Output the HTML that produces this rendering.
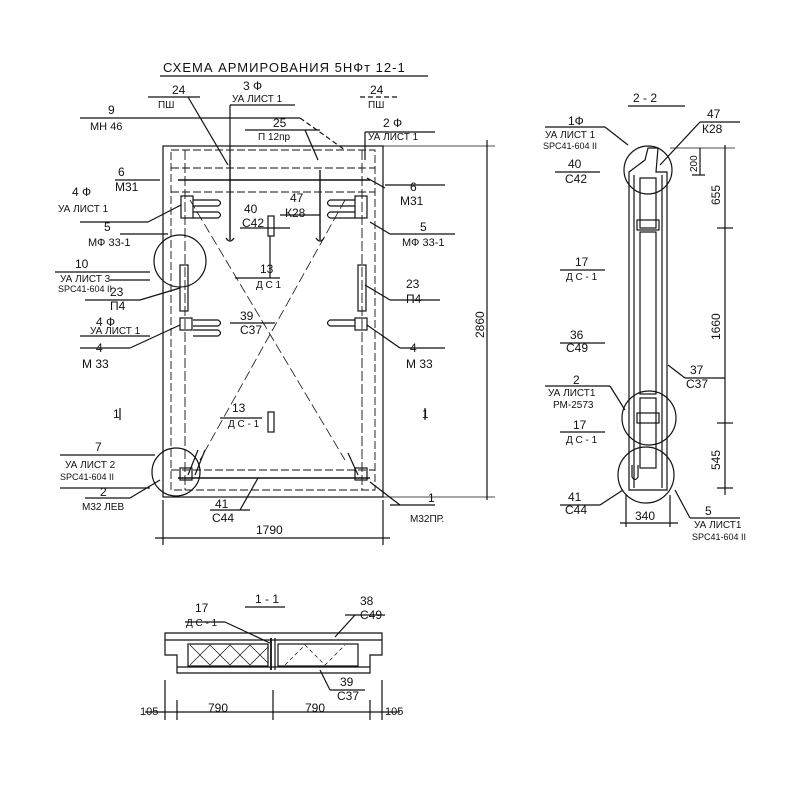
<!DOCTYPE html>
<html><head><meta charset="utf-8"><style>
html,body{margin:0;padding:0;background:#fff;width:800px;height:800px;overflow:hidden}
text{font-family:"Liberation Sans",sans-serif;fill:#111}
</style></head><body>
<svg width="800" height="800" viewBox="0 0 800 800" xmlns="http://www.w3.org/2000/svg">
<g stroke="#111" stroke-width="1.2" fill="none">
<!-- title -->
<line x1="160" y1="76" x2="428" y2="76"/>
<!-- main panel -->
<rect x="163" y="146" width="220" height="351"/>
<rect x="171" y="150" width="204" height="340" stroke-dasharray="8,3" stroke-width="0.9"/>
<line x1="171" y1="168" x2="375" y2="168" stroke-dasharray="8,3" stroke-width="0.9"/>
<line x1="178" y1="180" x2="370" y2="180" stroke-width="1.6"/>
<line x1="171" y1="192" x2="375" y2="192" stroke-dasharray="8,3" stroke-width="0.9"/>
<line x1="171" y1="470" x2="375" y2="470" stroke-dasharray="8,3" stroke-width="0.9"/>
<line x1="178" y1="478" x2="370" y2="478" stroke-width="1.4"/>
<line x1="185" y1="150" x2="185" y2="490" stroke-dasharray="10,3" stroke-width="0.9"/>
<line x1="362" y1="150" x2="362" y2="490" stroke-dasharray="10,3" stroke-width="0.9"/>
<line x1="190" y1="200" x2="345" y2="460" stroke-dasharray="10,4" stroke-width="0.8"/>
<line x1="345" y1="200" x2="200" y2="460" stroke-dasharray="10,4" stroke-width="0.8"/>
<line x1="230" y1="160" x2="230" y2="240" stroke-width="1.4"/>
<line x1="320" y1="170" x2="320" y2="240" stroke-width="1.4"/>
<path d="M226 238 q4 6 8 0"/><path d="M316 238 q4 6 8 0"/>
<rect x="181" y="196" width="12" height="22"/><rect x="355" y="196" width="12" height="22"/>
<rect x="180" y="265" width="8" height="46"/><rect x="358" y="265" width="8" height="46"/>
<rect x="180" y="318" width="12" height="12"/><rect x="355" y="318" width="12" height="12"/>
<rect x="180" y="468" width="12" height="12"/><rect x="355" y="468" width="12" height="12"/>
<rect x="268" y="216" width="6" height="20"/><rect x="268" y="412" width="6" height="20"/>
<path d="M193 200 h25 q5 3 0 6 h-25 M193 212 h25 q5 3 0 6 h-25"/>
<path d="M355 200 h-25 q-5 3 0 6 h25 M355 212 h-25 q-5 3 0 6 h25"/>
<path d="M193 320 h25 q5 3 0 6 h-25 M193 330 h25 q5 3 0 6 h-25"/>
<path d="M355 320 h-25 q-5 3 0 6 h25"/>
<path d="M188 475 l10 -25 M195 475 l10 -25 M358 475 l-10 -22"/>
<circle cx="180" cy="261" r="26"/><circle cx="176" cy="472" r="24"/>
<!-- leader lines main -->
<line x1="148" y1="97" x2="200" y2="97"/><line x1="188" y1="97" x2="228" y2="165"/>
<line x1="230" y1="105" x2="230" y2="165"/><line x1="230" y1="105" x2="295" y2="105"/>
<line x1="80" y1="118" x2="300" y2="118"/><line x1="300" y1="118" x2="345" y2="150" stroke-dasharray="5,3"/>
<line x1="245" y1="130" x2="320" y2="130"/><line x1="305" y1="130" x2="318" y2="160"/>
<line x1="365" y1="132" x2="435" y2="132"/><line x1="365" y1="132" x2="365" y2="160"/>
<line x1="360" y1="97" x2="400" y2="97" stroke-dasharray="5,3"/>
<line x1="115" y1="180" x2="160" y2="180"/>
<line x1="80" y1="222" x2="148" y2="222"/><line x1="148" y1="222" x2="181" y2="205"/>
<line x1="120" y1="234" x2="168" y2="234"/>
<line x1="385" y1="185" x2="445" y2="185"/><line x1="367" y1="178" x2="385" y2="188"/>
<line x1="370" y1="222" x2="390" y2="234"/><line x1="390" y1="234" x2="455" y2="234"/>
<line x1="55" y1="272" x2="150" y2="272"/>
<line x1="110" y1="280" x2="150" y2="280"/>
<line x1="85" y1="300" x2="140" y2="300"/><line x1="140" y1="300" x2="180" y2="288"/>
<line x1="390" y1="300" x2="440" y2="300"/><line x1="365" y1="285" x2="390" y2="300"/>
<line x1="80" y1="336" x2="150" y2="336"/>
<line x1="80" y1="348" x2="130" y2="348"/><line x1="130" y1="348" x2="180" y2="325"/>
<line x1="400" y1="348" x2="445" y2="348"/><line x1="367" y1="325" x2="400" y2="348"/>
<line x1="230" y1="323" x2="275" y2="323"/>
<line x1="235" y1="278" x2="280" y2="278"/><line x1="270" y1="278" x2="270" y2="236"/>
<line x1="220" y1="418" x2="262" y2="418"/>
<line x1="60" y1="455" x2="155" y2="455"/><line x1="60" y1="488" x2="150" y2="488"/>
<line x1="85" y1="498" x2="130" y2="498"/><line x1="130" y1="498" x2="160" y2="480"/>
<line x1="210" y1="510" x2="250" y2="510"/><line x1="240" y1="510" x2="258" y2="478"/>
<line x1="390" y1="505" x2="435" y2="505"/><line x1="370" y1="482" x2="400" y2="505"/>
<line x1="240" y1="228" x2="290" y2="228"/><line x1="280" y1="215" x2="320" y2="215"/>
<!-- dims main -->
<line x1="487" y1="140" x2="487" y2="500"/><line x1="383" y1="146" x2="495" y2="146" stroke-width="0.7"/>
<line x1="383" y1="497" x2="495" y2="497" stroke-width="0.7"/>
<line x1="163" y1="500" x2="163" y2="545"/><line x1="383" y1="500" x2="383" y2="545"/>
<line x1="155" y1="538" x2="390" y2="538"/>
<line x1="120" y1="420" x2="120" y2="408"/><line x1="425" y1="420" x2="425" y2="408"/>
<!-- 2-2 -->
<line x1="628" y1="106" x2="685" y2="106"/>
<path d="M629 172 L645 160 L648 148 L658 148 L656 172 L667 172 L667 490 L629 490 Z"/>
<line x1="634" y1="175" x2="634" y2="488"/><line x1="662" y1="175" x2="662" y2="488"/>
<rect x="640" y="178" width="16" height="50"/><rect x="640" y="232" width="16" height="162"/>
<rect x="640" y="398" width="16" height="70"/>
<rect x="637" y="220" width="22" height="10"/><rect x="637" y="413" width="22" height="10"/>
<path d="M632 465 v12 q3 5 6 0 v-12"/>
<circle cx="648" cy="170" r="24"/><circle cx="649" cy="418" r="27"/><circle cx="646" cy="475" r="28"/>
<line x1="725" y1="145" x2="725" y2="495"/><line x1="670" y1="148" x2="735" y2="148" stroke-width="0.7"/>
<line x1="717" y1="228" x2="733" y2="228"/><line x1="717" y1="423" x2="733" y2="423"/>
<line x1="717" y1="488" x2="733" y2="488"/>
<line x1="700" y1="148" x2="700" y2="175"/><line x1="692" y1="175" x2="705" y2="175"/>
<line x1="626" y1="495" x2="626" y2="527"/><line x1="670" y1="495" x2="670" y2="527"/>
<line x1="620" y1="523" x2="678" y2="523"/>
<line x1="545" y1="127" x2="605" y2="127"/><line x1="605" y1="127" x2="628" y2="145"/>
<line x1="555" y1="172" x2="600" y2="172"/><line x1="700" y1="122" x2="740" y2="122"/><line x1="700" y1="122" x2="660" y2="165"/>
<line x1="560" y1="270" x2="605" y2="270"/><line x1="560" y1="343" x2="605" y2="343"/>
<line x1="685" y1="378" x2="725" y2="378"/><line x1="685" y1="378" x2="668" y2="365"/>
<line x1="545" y1="386" x2="610" y2="386"/><line x1="610" y1="386" x2="625" y2="410"/>
<line x1="560" y1="432" x2="605" y2="432"/>
<line x1="560" y1="505" x2="600" y2="505"/><line x1="600" y1="505" x2="623" y2="490"/>
<line x1="690" y1="518" x2="740" y2="518"/><line x1="690" y1="518" x2="675" y2="490"/>
<!-- 1-1 -->
<line x1="245" y1="607" x2="285" y2="607"/>
<path d="M165 633 H382 V655 H370 V673 H177 V655 H165 Z"/>
<line x1="165" y1="640" x2="382" y2="640"/><line x1="177" y1="667" x2="370" y2="667"/>
<rect x="188" y="644" width="80" height="22"/><rect x="278" y="644" width="80" height="22"/>
<path d="M190 665 l20 -20 l20 20 l20 -20 l18 18 M190 645 l20 20 l20 -20 l20 20 l18 -18" stroke-width="0.7"/>
<path d="M285 665 l20 -20 l20 20 l20 -20" stroke-width="0.7" stroke-dasharray="4,3"/>
<line x1="271" y1="638" x2="271" y2="670" stroke-width="1.8"/><line x1="275" y1="638" x2="275" y2="670"/>
<line x1="185" y1="622" x2="225" y2="622"/><line x1="225" y1="622" x2="270" y2="643"/>
<line x1="345" y1="615" x2="385" y2="615"/><line x1="355" y1="615" x2="335" y2="637"/>
<line x1="330" y1="690" x2="365" y2="690"/><line x1="330" y1="690" x2="320" y2="670"/>
<line x1="145" y1="712" x2="400" y2="712"/>
<line x1="165" y1="680" x2="165" y2="720"/><line x1="177" y1="700" x2="177" y2="720"/>
<line x1="273" y1="690" x2="273" y2="720"/><line x1="370" y1="700" x2="370" y2="720"/>
<line x1="382" y1="680" x2="382" y2="720"/>
</g>
<g font-size="12">
<text x="163" y="72" font-size="13" letter-spacing="1">СХЕМА АРМИРОВАНИЯ 5НФт 12-1</text>
<text x="172" y="94">24</text><text x="158" y="108" font-size="10">ПШ</text>
<text x="243" y="90">3 Ф</text><text x="232" y="102" font-size="10">УА ЛИСТ 1</text>
<text x="108" y="114">9</text><text x="90" y="130" font-size="11">МН 46</text>
<text x="370" y="94">24</text><text x="368" y="108" font-size="10">ПШ</text>
<text x="273" y="127">25</text><text x="258" y="140" font-size="10">П 12пр</text>
<text x="383" y="127">2 Ф</text><text x="368" y="140" font-size="10">УА ЛИСТ 1</text>
<text x="118" y="176">6</text><text x="115" y="191">М31</text>
<text x="72" y="196">4 Ф</text><text x="58" y="212" font-size="10">УА ЛИСТ 1</text>
<text x="104" y="231">5</text><text x="88" y="246" font-size="11">МФ 33-1</text>
<text x="244" y="213">40</text><text x="242" y="227">С42</text>
<text x="290" y="202">47</text><text x="285" y="217">К28</text>
<text x="410" y="191">6</text><text x="400" y="205">М31</text>
<text x="420" y="231">5</text><text x="402" y="246" font-size="11">МФ 33-1</text>
<text x="75" y="268">10</text><text x="60" y="282" font-size="10">УА ЛИСТ 3</text><text x="58" y="292" font-size="9">SPC41-604 II</text>
<text x="110" y="296">23</text><text x="110" y="310">П4</text>
<text x="406" y="288">23</text><text x="406" y="303">П4</text>
<text x="260" y="273">13</text><text x="256" y="288" font-size="10">Д С 1</text>
<text x="96" y="326">4 Ф</text><text x="90" y="334" font-size="10">УА ЛИСТ 1</text>
<text x="240" y="320">39</text><text x="240" y="334">С37</text>
<text x="96" y="352">4</text><text x="82" y="368">М 33</text>
<text x="410" y="352">4</text><text x="406" y="368">М 33</text>
<text x="113" y="418">1</text><text x="422" y="418">1</text>
<text x="232" y="412">13</text><text x="228" y="427" font-size="10">Д С - 1</text>
<text x="95" y="451">7</text><text x="65" y="468" font-size="10">УА ЛИСТ 2</text><text x="60" y="480" font-size="9">SPC41-604 II</text>
<text x="100" y="496">2</text><text x="82" y="510" font-size="10">М32 ЛЕВ</text>
<text x="215" y="508">41</text><text x="212" y="522">С44</text>
<text x="428" y="502">1</text><text x="410" y="522" font-size="10">М32ПР.</text>
<text x="256" y="534">1790</text>
<text x="484" y="338" transform="rotate(-90 484 338)">2860</text>
<text x="633" y="102">2 - 2</text>
<text x="568" y="125">1Ф</text><text x="545" y="138" font-size="10">УА ЛИСТ 1</text><text x="543" y="149" font-size="9">SPC41-604 II</text>
<text x="568" y="168">40</text><text x="565" y="183">С42</text>
<text x="707" y="118">47</text><text x="702" y="133">К28</text>
<text x="697" y="172" font-size="10" transform="rotate(-90 697 172)">200</text>
<text x="720" y="205" transform="rotate(-90 720 205)">655</text>
<text x="720" y="340" transform="rotate(-90 720 340)">1660</text>
<text x="720" y="470" transform="rotate(-90 720 470)">545</text>
<text x="575" y="266">17</text><text x="566" y="280" font-size="10">Д С - 1</text>
<text x="570" y="339">36</text><text x="566" y="352">С49</text>
<text x="690" y="374">37</text><text x="686" y="388">С37</text>
<text x="573" y="384">2</text><text x="548" y="396" font-size="10">УА ЛИСТ1</text><text x="553" y="408" font-size="10">РМ-2573</text>
<text x="573" y="429">17</text><text x="566" y="443" font-size="10">Д С - 1</text>
<text x="568" y="501">41</text><text x="565" y="514">С44</text>
<text x="635" y="520">340</text>
<text x="705" y="515">5</text><text x="694" y="528" font-size="10">УА ЛИСТ1</text><text x="692" y="540" font-size="9">SPC41-604 II</text>
<text x="255" y="603">1 - 1</text>
<text x="195" y="612">17</text><text x="186" y="626" font-size="10">Д С - 1</text>
<text x="360" y="605">38</text><text x="360" y="619">С49</text>
<text x="340" y="686">39</text><text x="337" y="700">С37</text>
<text x="140" y="715" font-size="11">105</text><text x="208" y="712">790</text>
<text x="305" y="712">790</text><text x="385" y="715" font-size="11">105</text>
</g>
</svg>
</body></html>
